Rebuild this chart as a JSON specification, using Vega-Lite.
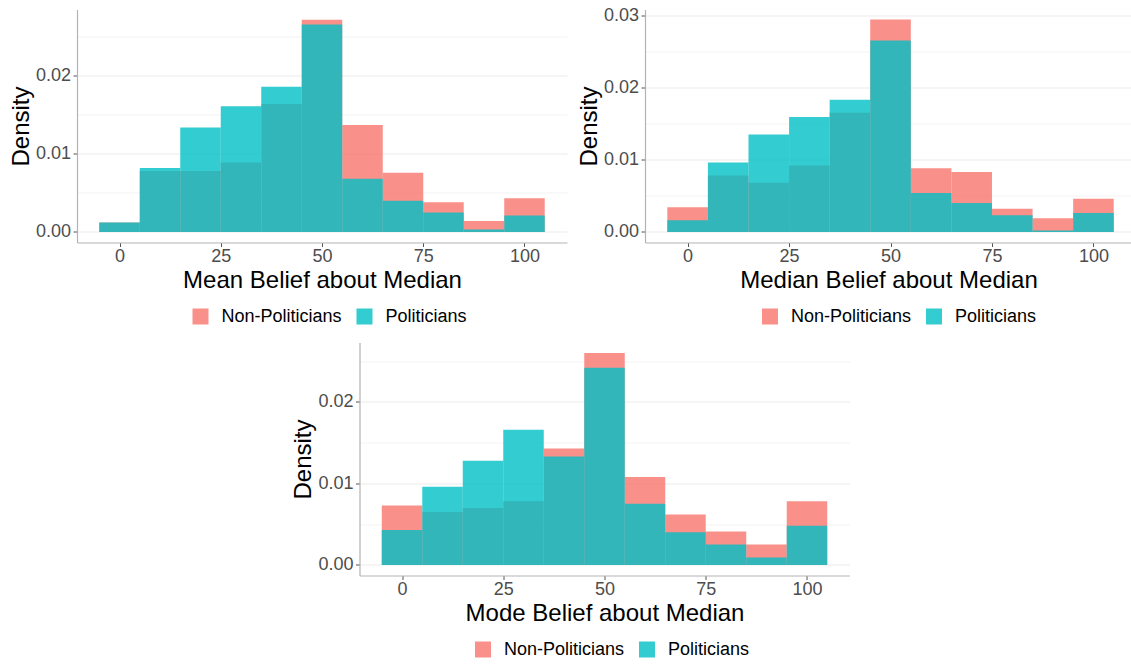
{
  "$schema": "https://vega.github.io/schema/vega-lite/v6.json",
  "padding": {"left": 9, "top": 5.5, "right": 0, "bottom": 0},
  "background": "white",
  "datasets": {
    "mean": [
      {"group": "Non-Politicians", "bin_start": -5, "bin_end": 5, "density": 0.0012},
      {"group": "Non-Politicians", "bin_start": 5, "bin_end": 15, "density": 0.0078},
      {"group": "Non-Politicians", "bin_start": 15, "bin_end": 25, "density": 0.0078},
      {"group": "Non-Politicians", "bin_start": 25, "bin_end": 35, "density": 0.0089},
      {"group": "Non-Politicians", "bin_start": 35, "bin_end": 45, "density": 0.0164},
      {"group": "Non-Politicians", "bin_start": 45, "bin_end": 55, "density": 0.0272},
      {"group": "Non-Politicians", "bin_start": 55, "bin_end": 65, "density": 0.0137},
      {"group": "Non-Politicians", "bin_start": 65, "bin_end": 75, "density": 0.0076},
      {"group": "Non-Politicians", "bin_start": 75, "bin_end": 85, "density": 0.0038},
      {"group": "Non-Politicians", "bin_start": 85, "bin_end": 95, "density": 0.0014},
      {"group": "Non-Politicians", "bin_start": 95, "bin_end": 105, "density": 0.0043},
      {"group": "Politicians", "bin_start": -5, "bin_end": 5, "density": 0.0012},
      {"group": "Politicians", "bin_start": 5, "bin_end": 15, "density": 0.0082},
      {"group": "Politicians", "bin_start": 15, "bin_end": 25, "density": 0.0134},
      {"group": "Politicians", "bin_start": 25, "bin_end": 35, "density": 0.0161},
      {"group": "Politicians", "bin_start": 35, "bin_end": 45, "density": 0.0186},
      {"group": "Politicians", "bin_start": 45, "bin_end": 55, "density": 0.0266},
      {"group": "Politicians", "bin_start": 55, "bin_end": 65, "density": 0.0068},
      {"group": "Politicians", "bin_start": 65, "bin_end": 75, "density": 0.0040},
      {"group": "Politicians", "bin_start": 75, "bin_end": 85, "density": 0.0025},
      {"group": "Politicians", "bin_start": 85, "bin_end": 95, "density": 0.0003},
      {"group": "Politicians", "bin_start": 95, "bin_end": 105, "density": 0.0021}
    ],
    "median": [
      {"group": "Non-Politicians", "bin_start": -5, "bin_end": 5, "density": 0.0034},
      {"group": "Non-Politicians", "bin_start": 5, "bin_end": 15, "density": 0.0078},
      {"group": "Non-Politicians", "bin_start": 15, "bin_end": 25, "density": 0.0068},
      {"group": "Non-Politicians", "bin_start": 25, "bin_end": 35, "density": 0.0092},
      {"group": "Non-Politicians", "bin_start": 35, "bin_end": 45, "density": 0.0165},
      {"group": "Non-Politicians", "bin_start": 45, "bin_end": 55, "density": 0.0294},
      {"group": "Non-Politicians", "bin_start": 55, "bin_end": 65, "density": 0.0088},
      {"group": "Non-Politicians", "bin_start": 65, "bin_end": 75, "density": 0.0083},
      {"group": "Non-Politicians", "bin_start": 75, "bin_end": 85, "density": 0.0032},
      {"group": "Non-Politicians", "bin_start": 85, "bin_end": 95, "density": 0.0019},
      {"group": "Non-Politicians", "bin_start": 95, "bin_end": 105, "density": 0.0046},
      {"group": "Politicians", "bin_start": -5, "bin_end": 5, "density": 0.0016},
      {"group": "Politicians", "bin_start": 5, "bin_end": 15, "density": 0.0096},
      {"group": "Politicians", "bin_start": 15, "bin_end": 25, "density": 0.0135},
      {"group": "Politicians", "bin_start": 25, "bin_end": 35, "density": 0.0159},
      {"group": "Politicians", "bin_start": 35, "bin_end": 45, "density": 0.0183},
      {"group": "Politicians", "bin_start": 45, "bin_end": 55, "density": 0.0265},
      {"group": "Politicians", "bin_start": 55, "bin_end": 65, "density": 0.0054},
      {"group": "Politicians", "bin_start": 65, "bin_end": 75, "density": 0.0040},
      {"group": "Politicians", "bin_start": 75, "bin_end": 85, "density": 0.0023},
      {"group": "Politicians", "bin_start": 85, "bin_end": 95, "density": 0.0002},
      {"group": "Politicians", "bin_start": 95, "bin_end": 105, "density": 0.0026}
    ],
    "mode": [
      {"group": "Non-Politicians", "bin_start": -5, "bin_end": 5, "density": 0.0073},
      {"group": "Non-Politicians", "bin_start": 5, "bin_end": 15, "density": 0.0065},
      {"group": "Non-Politicians", "bin_start": 15, "bin_end": 25, "density": 0.0070},
      {"group": "Non-Politicians", "bin_start": 25, "bin_end": 35, "density": 0.0078},
      {"group": "Non-Politicians", "bin_start": 35, "bin_end": 45, "density": 0.0143},
      {"group": "Non-Politicians", "bin_start": 45, "bin_end": 55, "density": 0.0260},
      {"group": "Non-Politicians", "bin_start": 55, "bin_end": 65, "density": 0.0108},
      {"group": "Non-Politicians", "bin_start": 65, "bin_end": 75, "density": 0.0062},
      {"group": "Non-Politicians", "bin_start": 75, "bin_end": 85, "density": 0.0041},
      {"group": "Non-Politicians", "bin_start": 85, "bin_end": 95, "density": 0.0025},
      {"group": "Non-Politicians", "bin_start": 95, "bin_end": 105, "density": 0.0078},
      {"group": "Politicians", "bin_start": -5, "bin_end": 5, "density": 0.0043},
      {"group": "Politicians", "bin_start": 5, "bin_end": 15, "density": 0.0096},
      {"group": "Politicians", "bin_start": 15, "bin_end": 25, "density": 0.0128},
      {"group": "Politicians", "bin_start": 25, "bin_end": 35, "density": 0.0166},
      {"group": "Politicians", "bin_start": 35, "bin_end": 45, "density": 0.0133},
      {"group": "Politicians", "bin_start": 45, "bin_end": 55, "density": 0.0242},
      {"group": "Politicians", "bin_start": 55, "bin_end": 65, "density": 0.0075},
      {"group": "Politicians", "bin_start": 65, "bin_end": 75, "density": 0.0040},
      {"group": "Politicians", "bin_start": 75, "bin_end": 85, "density": 0.0025},
      {"group": "Politicians", "bin_start": 85, "bin_end": 95, "density": 0.0009},
      {"group": "Politicians", "bin_start": 95, "bin_end": 105, "density": 0.0048}
    ]
  },
  "vconcat": [
    {
      "hconcat": [
        {
          "width": 490,
          "height": 233,
          "data": {"name": "mean"},
          "mark": {"type": "rect", "opacity": 0.8},
          "encoding": {
            "x": {"field": "bin_start", "type": "quantitative", "scale": {"domain": [-10.5, 110.5], "nice": false, "zero": false}, "axis": {"values": [0, 25, 50, 75, 100], "title": "Mean Belief about Median"}},
            "x2": {"field": "bin_end"},
            "y": {"field": "density", "type": "quantitative", "scale": {"domain": [-0.00136, 0.02852], "nice": false, "zero": false},
              "axis": {"title": "Density", "values": [0, 0.005, 0.01, 0.015, 0.02, 0.025],
                "labelExpr": "round(datum.value*1000) % 10 == 0 ? format(datum.value, '.2f') : ''",
                "tickOpacity": {"condition": {"test": "round(datum.value*1000) % 10 != 0", "value": 0}, "value": 1},
                "gridColor": {"condition": {"test": "round(datum.value*1000) % 10 != 0", "value": "#F3F3F3"}, "value": "#EBEBEB"}}},
            "y2": {"datum": 0},
            "color": {"field": "group", "type": "nominal", "scale": {"domain": ["Non-Politicians", "Politicians"], "range": ["#F8766D", "#00BFC4"]},
              "legend": {"orient": "none", "legendX": 114.5, "legendY": 298, "direction": "horizontal", "title": null}}
          }
        },
        {
          "width": 487,
          "height": 233,
          "data": {"name": "median"},
          "mark": {"type": "rect", "opacity": 0.8},
          "encoding": {
            "x": {"field": "bin_start", "type": "quantitative", "scale": {"domain": [-10.5, 109.5], "nice": false, "zero": false}, "axis": {"values": [0, 25, 50, 75, 100], "title": "Median Belief about Median"}},
            "x2": {"field": "bin_end"},
            "y": {"field": "density", "type": "quantitative", "scale": {"domain": [-0.00147, 0.03079], "nice": false, "zero": false},
              "axis": {"title": "Density", "values": [0, 0.005, 0.01, 0.015, 0.02, 0.025, 0.03],
                "labelExpr": "round(datum.value*1000) % 10 == 0 ? format(datum.value, '.2f') : ''",
                "tickOpacity": {"condition": {"test": "round(datum.value*1000) % 10 != 0", "value": 0}, "value": 1},
                "gridColor": {"condition": {"test": "round(datum.value*1000) % 10 != 0", "value": "#F3F3F3"}, "value": "#EBEBEB"}}},
            "y2": {"datum": 0},
            "color": {"field": "group", "type": "nominal", "scale": {"domain": ["Non-Politicians", "Politicians"], "range": ["#F8766D", "#00BFC4"]},
              "legend": {"orient": "none", "legendX": 116, "legendY": 298, "direction": "horizontal", "title": null}}
          }
        }
      ],
      "spacing": 10,
      "resolve": {"scale": {"x": "independent", "y": "independent", "color": "independent"}, "legend": {"color": "independent"}}
    },
    {
      "width": 490,
      "height": 233,
      "data": {"name": "mode"},
      "mark": {"type": "rect", "opacity": 0.8},
      "encoding": {
        "x": {"field": "bin_start", "type": "quantitative", "scale": {"domain": [-10.5, 110.5], "nice": false, "zero": false}, "axis": {"values": [0, 25, 50, 75, 100], "title": "Mode Belief about Median"}},
        "x2": {"field": "bin_end"},
        "y": {"field": "density", "type": "quantitative", "scale": {"domain": [-0.0013, 0.0273], "nice": false, "zero": false},
          "axis": {"title": "Density", "values": [0, 0.005, 0.01, 0.015, 0.02, 0.025],
            "labelExpr": "round(datum.value*1000) % 10 == 0 ? format(datum.value, '.2f') : ''",
            "tickOpacity": {"condition": {"test": "round(datum.value*1000) % 10 != 0", "value": 0}, "value": 1},
            "gridColor": {"condition": {"test": "round(datum.value*1000) % 10 != 0", "value": "#F3F3F3"}, "value": "#EBEBEB"}}},
        "y2": {"datum": 0},
        "color": {"field": "group", "type": "nominal", "scale": {"domain": ["Non-Politicians", "Politicians"], "range": ["#F8766D", "#00BFC4"]},
          "legend": {"orient": "none", "legendX": 114.5, "legendY": 298, "direction": "horizontal", "title": null}}
      }
    }
  ],
  "spacing": 17,
  "center": true,
  "resolve": {"scale": {"x": "independent", "y": "independent", "color": "independent"}, "legend": {"color": "independent"}},
  "config": {
    "view": {"stroke": null},
    "font": "Liberation Sans",
    "axis": {
      "labelFont": "Liberation Sans", "titleFont": "Liberation Sans",
      "labelFontSize": 18, "labelColor": "#4D4D4D",
      "titleFontSize": 24, "titleColor": "#000000", "titleFontWeight": "normal",
      "domainColor": "#B3B3B3", "domainWidth": 1.2, "tickColor": "#555555", "tickSize": 4,
      "labelFlush": false, "labelOverlap": false
    },
    "axisX": {"grid": false, "labelPadding": 1, "titlePadding": 3},
    "axisY": {"labelPadding": 2.5, "titlePadding": 2},
    "legend": {
      "symbolType": "square", "symbolSize": 256, "symbolOpacity": 0.8, "symbolStrokeWidth": 0,
      "labelFont": "Liberation Sans", "labelFontSize": 18, "labelColor": "#000000",
      "columnPadding": 13, "labelOffset": 12
    }
  }
}
